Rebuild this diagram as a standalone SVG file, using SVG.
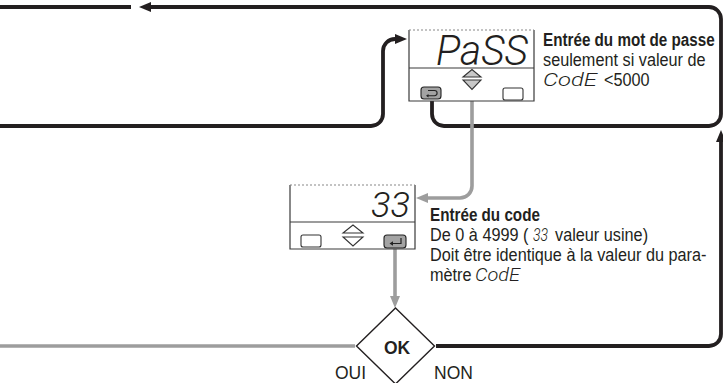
<svg xmlns="http://www.w3.org/2000/svg" width="723" height="383" viewBox="0 0 723 383">
<style>
.blk{fill:none;stroke:#231f20;stroke-width:3.8}
.gry{fill:none;stroke:#9d9d9d;stroke-width:3.6}
.box{fill:#fff;stroke:#3a3a3a;stroke-width:1.2}
.dash{fill:none;stroke:#888;stroke-width:1.2;stroke-dasharray:2 2}
.btn{fill:#fff;stroke:#333;stroke-width:1.1}
.btng{fill:#a3a3a3;stroke:#222;stroke-width:1.1}
.tri{fill:#fff;stroke:#333;stroke-width:1.1}
.trig{fill:#c8c8c8;stroke:#333;stroke-width:1.1}
.t{font-family:"Liberation Sans",Arial,sans-serif;font-size:17.5px;fill:#231f20}
.b{font-weight:bold}
.seg{font-family:Roboto,"DejaVu Sans",sans-serif;font-weight:300;font-style:italic;fill:#231f20}
</style>
<defs>
<marker id="ab" viewBox="0 0 12 10" refX="7" refY="5" markerWidth="12" markerHeight="10" markerUnits="userSpaceOnUse" orient="auto">
<path d="M0,0 L12,5 L0,10 z" fill="#231f20"/>
</marker>
<marker id="ag" viewBox="0 0 12 10" refX="7" refY="5" markerWidth="12" markerHeight="10" markerUnits="userSpaceOnUse" orient="auto">
<path d="M0,0 L12,5 L0,10 z" fill="#9d9d9d"/>
</marker>
</defs>
<rect width="723" height="383" fill="#fff"/>
<g id="connectors">
<path class="blk" d="M0,7 H131"/>
<path class="blk" d="M432,100 V114 A12,12 0 0 0 444,126 H709 A12,12 0 0 0 721,114 V19 A12,12 0 0 0 709,7 H144" marker-end="url(#ab)"/>
<path class="blk" d="M0,126 H371 A12,12 0 0 0 383,114 V51 A12,12 0 0 1 395,39 H402" marker-end="url(#ab)"/>
<path class="blk" d="M436,346 H709 A12,12 0 0 0 721,334 V135" marker-end="url(#ab)"/>
<path class="gry" d="M472,92 V186 A12,12 0 0 1 460,198 H421" marker-end="url(#ag)"/>
<path class="gry" d="M395,249 V303" marker-end="url(#ag)"/>
<path class="gry" d="M355,346 H0"/>
</g>
<g id="pass-display">
<path class="box" d="M409,30 V101 H534 V30"/>
<path class="dash" d="M409,30 H534"/>
<path class="box" d="M409,68 H534"/>
<text class="seg" x="436" y="65" font-size="42" textLength="92" lengthAdjust="spacingAndGlyphs">PaSS</text>
<rect class="btng" x="421" y="87" width="20" height="12" rx="3"/>
<path d="M428,90.5 H434.5 A2.6,2.6 0 0 1 434.5,95.7 H427" fill="none" stroke="#222" stroke-width="1.1"/>
<path d="M426,95.7 L428.5,94 L428.5,97.4 z" fill="#222"/>
<path class="trig" d="M463,77 L472,69.5 L481,77 z"/>
<path class="trig" d="M463,80 L481,80 L472,89.5 z"/>
<rect class="btn" x="503" y="88" width="20" height="12" rx="2"/>
</g>
<g id="code-display">
<path class="box" d="M290,185 V249 H415 V185"/>
<path class="dash" d="M290,185 H415"/>
<path class="box" d="M290,222 H415"/>
<text class="seg" x="371" y="217" font-size="35" textLength="39" lengthAdjust="spacingAndGlyphs">33</text>
<rect class="btn" x="301" y="235" width="20" height="12" rx="2"/>
<path class="tri" d="M343,233 L353,225 L363,233 z"/>
<path class="tri" d="M343,237 L363,237 L353,246 z"/>
<rect class="btng" x="384" y="235" width="22" height="13" rx="3"/>
<path d="M401,238 V243.5 H392" fill="none" stroke="#222" stroke-width="1.2"/>
<path d="M389.5,243.5 L393,241.3 L393,245.7 z" fill="#222"/>
</g>
<g id="decision-ok">
<path d="M395.5,308 L434.5,346 L395.5,384 L356.5,346 z" fill="#fff" stroke="#231f20" stroke-width="1.4"/>
<text class="t b" x="397" y="354" font-size="21.5" text-anchor="middle">OK</text>
<text class="t" x="335" y="379" font-size="20">OUI</text>
<text class="t" x="434" y="379" font-size="20">NON</text>
</g>
<g id="label-pass">
<text class="t b" transform="translate(543,46) scale(0.87,1)">Entrée du mot de passe</text>
<text class="t" transform="translate(543,66) scale(0.93,1)">seulement si valeur de</text>
<text class="seg" x="543" y="86" font-size="18" textLength="54" lengthAdjust="spacingAndGlyphs">CodE</text>
<text class="t" transform="translate(604,86) scale(0.93,1)">&lt;5000</text>
</g>
<g id="label-code">
<text class="t b" transform="translate(430,221) scale(0.87,1)">Entrée du code</text>
<text class="t" transform="translate(430,241) scale(0.93,1)">De 0 à 4999 (</text>
<text class="seg" x="533" y="241" font-size="18" textLength="15" lengthAdjust="spacingAndGlyphs">33</text>
<text class="t" transform="translate(555,241) scale(0.93,1)">valeur usine)</text>
<text class="t" transform="translate(430,261) scale(0.93,1)">Doit être identique à la valeur du para-</text>
<text class="t" transform="translate(430,281) scale(0.93,1)">mètre</text>
<text class="seg" x="475" y="281" font-size="18" textLength="45" lengthAdjust="spacingAndGlyphs">CodE</text>
</g>
</svg>
